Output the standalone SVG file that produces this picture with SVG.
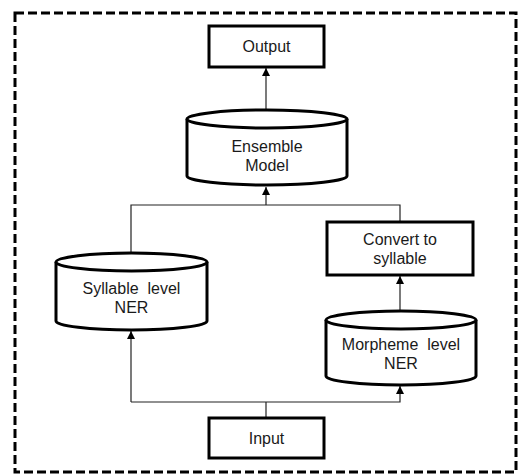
<svg xmlns="http://www.w3.org/2000/svg" width="520" height="475" viewBox="0 0 520 475">
<defs>
<marker id="arr" viewBox="0 0 10 10" refX="10" refY="5" markerWidth="8" markerHeight="8" markerUnits="userSpaceOnUse" orient="auto">
<path d="M0,0 L10,5 L0,10 Z" fill="#000"/>
</marker>
</defs>
<style>
.box{fill:#fff;stroke:#000;stroke-width:3}
.cyl{fill:#fff;stroke:#000;stroke-width:3}
.lbl{font-family:"Liberation Sans",Arial,sans-serif;font-size:16px;fill:#1a1a1a;text-anchor:middle;dominant-baseline:central;white-space:pre}
.con{fill:none;stroke:#222;stroke-width:1.2}
</style>
<rect x="15" y="13" width="501" height="459" fill="none" stroke="#000" stroke-width="3" stroke-dasharray="9,4"/>
<g id="connectors">
<path class="con" d="M266,110 L266,68" marker-end="url(#arr)"/>
<path class="con" d="M131,252 L131,205 L400,205 L400,222"/>
<path class="con" d="M266,205 L266,187" marker-end="url(#arr)"/>
<path class="con" d="M400,310 L400,276" marker-end="url(#arr)"/>
<path class="con" d="M266,418 L266,402"/>
<path class="con" d="M131,402 L131,331" marker-end="url(#arr)"/>
<path class="con" d="M131,402 L400,402 L400,386" marker-end="url(#arr)"/>
</g>
<g id="output">
<rect class="box" x="209" y="26" width="115" height="41"/>
<text class="lbl" x="266.5" y="46.5">Output</text>
</g>
<g id="ensemble">
<path class="cyl" d="M187,119 L187,176 A80,9 0 0 0 347,176 L347,119"/>
<ellipse class="cyl" cx="267" cy="119" rx="80" ry="9"/>
<text class="lbl" x="267" y="146">Ensemble</text>
<text class="lbl" x="267" y="165">Model</text>
</g>
<g id="convert">
<rect class="box" x="327" y="222" width="146" height="53"/>
<text class="lbl" x="400" y="239">Convert to</text>
<text class="lbl" x="400" y="258">syllable</text>
</g>
<g id="syllable">
<path class="cyl" d="M56,262 L56,321 A75.5,9 0 0 0 207,321 L207,262"/>
<ellipse class="cyl" cx="131.5" cy="262" rx="75.5" ry="9"/>
<text class="lbl" x="131.5" y="288">Syllable  level</text>
<text class="lbl" x="131.5" y="307">NER</text>
</g>
<g id="morpheme">
<path class="cyl" d="M326,320 L326,376 A75,9 0 0 0 476,376 L476,320"/>
<ellipse class="cyl" cx="401" cy="320" rx="75" ry="9"/>
<text class="lbl" x="401" y="344">Morpheme  level</text>
<text class="lbl" x="401" y="363">NER</text>
</g>
<g id="input">
<rect class="box" x="209" y="418" width="115" height="40"/>
<text class="lbl" x="266.5" y="438">Input</text>
</g>
</svg>
